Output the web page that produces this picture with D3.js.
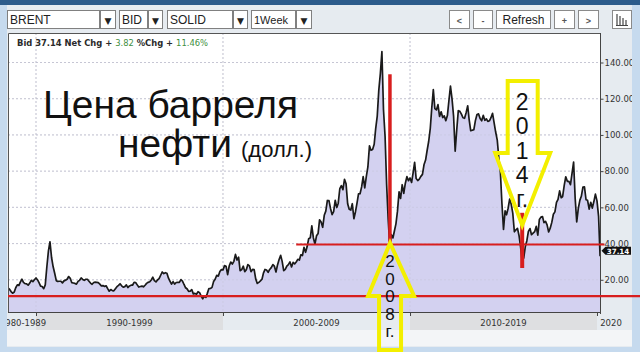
<!DOCTYPE html>
<html><head><meta charset="utf-8">
<script src="https://cdn.jsdelivr.net/npm/d3@7"></script>
<style>html,body{margin:0;padding:0;background:#c9dcef;}svg{display:block}</style>
</head><body><svg id="c" width="640" height="352"></svg>
<script>
// ---------- DATA (monthly Brent, USD/bbl) ----------
const firstMonth = [1988, 6]; // July 1988
const brent1988 = [15.5, 14.8, 13.5, 12.6, 13.2, 15.6];
const brent1989 = [17.2, 16.9, 18.7, 20.3, 18.6, 17.9, 17.8, 17.0, 18.2, 19.7, 19.0, 20.0];
const brent1990 = [21.0, 19.9, 18.4, 16.5, 16.3, 15.1, 17.2, 27.2, 36.0, 41.0, 32.3, 27.3];
const brent1991 = [23.6, 19.5, 19.1, 19.2, 19.2, 18.3, 19.4, 19.8, 20.3, 21.8, 20.8, 18.4];
const brent1992 = [18.2, 18.0, 17.6, 19.1, 19.7, 21.0, 20.2, 19.7, 20.3, 20.3, 19.2, 18.2];
const brent1993 = [17.5, 18.5, 18.7, 18.6, 18.4, 17.6, 16.6, 16.8, 16.3, 16.7, 15.1, 13.7];
const brent1994 = [14.6, 14.0, 13.9, 15.1, 16.2, 16.9, 17.8, 16.7, 15.9, 16.2, 17.2, 15.7];
const brent1995 = [16.6, 17.0, 17.0, 18.6, 18.5, 17.2, 16.0, 16.3, 16.5, 16.1, 17.0, 18.0];
const brent1996 = [18.6, 18.9, 19.9, 21.4, 19.5, 18.8, 19.9, 20.6, 22.5, 24.3, 23.4, 23.9];
const brent1997 = [23.6, 20.9, 19.3, 17.6, 19.0, 17.6, 18.5, 18.6, 18.6, 20.1, 19.3, 17.4];
const brent1998 = [15.6, 14.9, 13.6, 13.7, 14.6, 12.2, 12.5, 12.0, 13.4, 12.9, 11.0, 9.5];
const brent1999 = [11.1, 10.3, 12.5, 15.2, 15.2, 15.8, 19.0, 20.3, 22.5, 22.0, 24.6, 25.6];
const brent2000 = [25.5, 27.8, 27.5, 22.8, 27.6, 29.8, 28.7, 30.2, 34.0, 30.9, 32.5, 25.0];
const brent2001 = [25.6, 27.5, 24.5, 25.6, 28.4, 27.7, 24.5, 25.7, 25.6, 20.5, 18.0, 18.6];
const brent2002 = [19.4, 20.3, 23.7, 25.7, 25.4, 24.1, 25.7, 26.7, 28.4, 27.5, 24.3, 28.2];
const brent2003 = [31.2, 33.5, 30.3, 25.0, 25.8, 27.6, 28.4, 29.9, 27.1, 29.6, 28.8, 29.8];
const brent2004 = [31.3, 30.9, 33.8, 33.4, 37.9, 35.2, 38.2, 42.7, 43.2, 49.8, 43.1, 39.7];
const brent2005 = [44.3, 45.6, 53.1, 51.9, 49.0, 55.6, 57.9, 63.8, 63.7, 59.4, 56.0, 57.6];
const brent2006 = [63.9, 59.9, 62.3, 70.4, 72.0, 69.8, 75.5, 73.0, 62.0, 58.9, 58.5, 62.0];
const brent2007 = [53.7, 57.6, 62.1, 67.4, 67.5, 71.3, 77.0, 70.8, 77.1, 82.3, 94.0, 91.5];
const brent2008 = [91.9, 94.8, 103.3, 110.4, 124.6, 134.0, 146.0, 113.9, 99.1, 72.8, 53.2, 39.0];
const brent2009 = [44.9, 43.1, 46.8, 50.9, 57.9, 68.6, 64.9, 72.5, 67.7, 73.2, 77.0, 74.7];
const brent2010 = [76.2, 73.8, 78.8, 84.8, 75.9, 74.8, 75.6, 77.1, 78.2, 83.5, 86.1, 91.4];
const brent2011 = [96.5, 103.7, 114.6, 125.0, 114.5, 113.8, 116.7, 110.2, 112.8, 109.6, 110.5, 107.9];
const brent2012 = [110.7, 119.3, 127.0, 119.8, 110.3, 91.0, 102.6, 113.4, 113.0, 111.5, 109.5, 109.2];
const brent2013 = [112.3, 116.1, 108.5, 102.3, 102.6, 102.9, 107.9, 111.3, 111.6, 109.1, 107.8, 110.8];
const brent2014 = [108.1, 108.9, 107.5, 107.8, 109.5, 111.9, 106.8, 101.6, 97.1, 87.4, 79.4, 62.3];
const brent2015 = [47.8, 58.1, 55.9, 59.5, 64.6, 61.7, 56.8, 46.5, 47.6, 48.4, 44.3, 38.0];
const brent2016 = [30.0, 32.2, 38.2, 41.6, 46.7, 48.3, 44.9, 45.8, 46.6, 49.5, 44.7, 53.3];
const brent2017 = [54.6, 54.9, 51.6, 52.3, 50.3, 46.4, 48.5, 51.7, 56.2, 57.5, 62.7, 64.4];
const brent2018 = [69.1, 65.3, 66.0, 72.1, 76.9, 74.4, 74.3, 72.5, 78.9, 85.0, 64.8, 52.0];
const brent2019 = [59.4, 64.0, 66.1, 71.2, 71.3, 64.2, 63.9, 59.0, 62.8, 59.6, 63.2, 67.3];
const brent2020 = [63.6, 55.0, 33.0];

const yTicks = [20, 40, 60, 80, 100, 120, 140];
const decadeStarts = [1980, 1990, 2000, 2010, 2020];
const decadeLabels = ["1980-1989", "1990-1999", "2000-2009", "2010-2019", "2020"];
const lastBid = 37.14, netChg = "3.82", pctChg = "11.46%";
const refLevels = [11, 39.5];            // horizontal red lines
const crash2008 = [2008, 11, 39.5, 133.5];  // year, month, from, to
const low2016 = [2016, 0, 57, 26.5];
const arrow2008Tip = [2008, 11, 40.3];
const arrow2014Tip = [2016, 0, 50.2];
const titleLine1 = "Цена барреля", titleLine2 = "нефти", titleUnit = "(долл.)";
const dropdowns = ["BRENT", "BID", "SOLID", "1Week"];
const buttons = ["<", "-", "Refresh", "+", ">"];

// ---------- BUILD ----------
const allVals = [].concat(brent1988, brent1989, brent1990, brent1991, brent1992, brent1993, brent1994,
  brent1995, brent1996, brent1997, brent1998, brent1999, brent2000, brent2001, brent2002, brent2003,
  brent2004, brent2005, brent2006, brent2007, brent2008, brent2009, brent2010, brent2011, brent2012,
  brent2013, brent2014, brent2015, brent2016, brent2017, brent2018, brent2019, brent2020);
const data = allVals.map((v, i) => ({date: new Date(firstMonth[0], firstMonth[1] + i, 1), v}));

const svg = d3.select("#c");
const L = 8, R = 600.5, T = 33, B = 312;
const x = d3.scaleTime().domain([new Date(1990, 0, 1), new Date(2020, 0, 1)]).range([36, 597]);
const y = d3.scaleLinear().domain([0, 140]).range([316, 62.5]);

// background panel
svg.append("rect").attr("x", 0).attr("y", 0).attr("width", 640).attr("height", 352).attr("fill", "#c9dcef");
svg.append("rect").attr("x", 7).attr("y", 5).attr("width", 625).attr("height", 342).attr("fill", "#e6ebf0");
svg.append("rect").attr("x", 7).attr("y", 330).attr("width", 625).attr("height", 16).attr("fill", "#f3f5f7");
svg.append("rect").attr("x", 0).attr("y", 0).attr("width", 640).attr("height", 5).attr("fill", "#2c5b8b");

// toolbar
const ddX = [[7, 100, 116], [119, 148, 163], [167, 233, 248], [251, 296, 312]];
const tb = svg.append("g").attr("font-family", "Liberation Sans, Arial, sans-serif").attr("font-size", 12).attr("fill", "#222");
dropdowns.forEach((t, i) => {
  const [a, b, c] = ddX[i];
  tb.append("rect").attr("x", a + .5).attr("y", 10.5).attr("width", b - a - 1).attr("height", 18).attr("fill", "#fff").attr("stroke", "#808080");
  tb.append("rect").attr("x", b + .5).attr("y", 10.5).attr("width", c - b - 1).attr("height", 18).attr("fill", "#fff").attr("stroke", "#808080");
  tb.append("text").attr("x", a + 3).attr("y", 24).attr("font-size", t === "1Week" ? 11 : 12).text(t);
  tb.append("text").attr("x", (b + c) / 2).attr("y", 23.5).attr("text-anchor", "middle").attr("font-size", 9).attr("font-family", "DejaVu Sans").text("▼");
});
const btX = [[449, 470], [473, 493], [496, 551], [554, 575], [578, 599]];
buttons.forEach((t, i) => {
  const [a, b] = btX[i];
  tb.append("rect").attr("x", a + .5).attr("y", 10.5).attr("width", b - a - 1).attr("height", 18).attr("fill", "#fff").attr("stroke", "#8a8a8a");
  tb.append("text").attr("x", (a + b) / 2).attr("y", 24).attr("text-anchor", "middle")
    .attr("font-size", t === "Refresh" ? 12 : 9).attr("fill", t === "Refresh" ? "#222" : "#555").attr("font-weight", t === "Refresh" ? "normal" : "bold").text(t);
});
tb.append("rect").attr("x", 612.5).attr("y", 10.5).attr("width", 19).attr("height", 18).attr("fill", "#fff").attr("stroke", "#8a8a8a");
[[617, 14], [620, 16], [623, 18], [626, 20]].forEach(([px, top]) =>
  tb.append("line").attr("x1", px).attr("x2", px).attr("y1", top).attr("y2", 25).attr("stroke", "#444").attr("stroke-width", 1.2));
tb.append("line").attr("x1", 616).attr("x2", 628).attr("y1", 25.5).attr("y2", 25.5).attr("stroke", "#444");

// plot area
svg.append("rect").attr("x", L).attr("y", T).attr("width", R - L).attr("height", B - T).attr("fill", "#fff");
svg.append("clipPath").attr("id", "clip").append("rect").attr("x", L).attr("y", T).attr("width", R - L).attr("height", B - T);
const plot = svg.append("g").attr("clip-path", "url(#clip)");

const grid = (g, op) => {
  g.selectAll(".hg").data(yTicks).join("line").attr("x1", L).attr("x2", R).attr("y1", d => y(d)).attr("y2", d => y(d))
    .attr("stroke", "#bfbfcf").attr("stroke-dasharray", "2,2").attr("opacity", op);
  g.selectAll(".vg").data(decadeStarts.slice(1, 4)).join("line").attr("x1", d => x(new Date(d, 0, 1))).attr("x2", d => x(new Date(d, 0, 1)))
    .attr("y1", T).attr("y2", B).attr("stroke", "#bfbfcf").attr("stroke-dasharray", "2,2").attr("opacity", op);
};
grid(plot.append("g"), 0.8);

plot.append("path").datum(data).attr("fill", "#d3d1f0")
  .attr("d", d3.area().x(d => x(d.date)).y0(B).y1(d => y(d.v)));
grid(plot.append("g"), 0.35);
plot.append("path").datum(data).attr("fill", "none").attr("stroke", "#1a1a1a").attr("stroke-width", 1.7).attr("stroke-linejoin", "round")
  .attr("d", d3.line().x(d => x(d.date)).y(d => y(d.v)));

// frame
svg.append("path").attr("d", `M${L + .5},${B}V${T + .5}H${R}`).attr("fill", "none").attr("stroke", "#555");

// y axis
const ya = svg.append("g").attr("transform", `translate(${R},0)`)
  .call(d3.axisRight(y).tickValues(yTicks).tickFormat(d3.format(".2f")).tickSize(3).tickPadding(1));
ya.select(".domain").remove();
ya.append("line").attr("y1", T).attr("y2", B + 2).attr("stroke", "#444");
ya.selectAll("text").attr("font-family", "DejaVu Sans").attr("font-size", 8.5).attr("fill", "#333");
ya.selectAll("line").attr("stroke", "#444");

// x axis bands & labels
const xPos = yr => x(new Date(yr, 0, 1));
const bands = svg.append("g");
const labs = svg.append("g");
decadeStarts.forEach((yr, i) => {
  const a = Math.max(xPos(yr), L), b = Math.min(xPos(yr + 10), 625);
  if (i % 2 === 1) bands.append("rect").attr("x", a).attr("y", 313).attr("width", b - a).attr("height", 17).attr("fill", "#dedfe1");
  labs.append("text").attr("x", (a + b) / 2 + (i === 0 ? 1 : 0)).attr("y", 326).attr("text-anchor", "middle").attr("font-family", "DejaVu Sans")
    .attr("font-size", 8.5).attr("fill", "#333").text(decadeLabels[i]);
});
const xa = svg.append("g").attr("transform", `translate(0,${B})`)
  .call(d3.axisBottom(x).tickValues(decadeStarts.slice(1).map(d => new Date(d, 0, 1))).tickSize(4).tickFormat(""));
xa.select(".domain").remove();
xa.selectAll("line").attr("stroke", "#444");
svg.append("line").attr("x1", L).attr("x2", R).attr("y1", B + .5).attr("y2", B + .5).attr("stroke", "#444");

// bid text
const bt = svg.append("text").attr("x", 17).attr("y", 46).attr("font-family", "DejaVu Sans").attr("font-size", 8.4).attr("font-weight", "bold").attr("fill", "#2a2a2a");
bt.append("tspan").text(`Bid ${lastBid} Net Chg + `);
bt.append("tspan").attr("fill", "#3f8f3f").attr("font-weight", "normal").text(netChg);
bt.append("tspan").text(" %Chg + ");
bt.append("tspan").attr("fill", "#3f8f3f").attr("font-weight", "normal").text(pctChg);

// edge strips
svg.append("rect").attr("x", 0).attr("y", 5).attr("width", 7).attr("height", 347).attr("fill", "#c6daee");
svg.append("rect").attr("x", 632).attr("y", 5).attr("width", 8).attr("height", 347).attr("fill", "#c6daee");
svg.append("rect").attr("x", 0).attr("y", 347).attr("width", 640).attr("height", 5).attr("fill", "#c6daee");

// last price tag
const ty = y(lastBid) + 2;
svg.append("path").attr("d", `M${R + 1},${ty} L${R + 5},${ty - 4} H631 V${ty + 4} H${R + 5} Z`).attr("fill", "#111");
svg.append("text").attr("x", 618).attr("y", ty + 3).attr("text-anchor", "middle").attr("font-family", "DejaVu Sans")
  .attr("font-size", 7.2).attr("font-weight", "bold").attr("fill", "#fff").text(lastBid.toFixed(2));

// title
const tt = svg.append("g").attr("font-family", "Liberation Sans, Arial, sans-serif").attr("fill", "#111");
const t1 = tt.append("text").attr("x", 43).attr("y", 118).attr("font-size", 39).text(titleLine1);
const k = 255 / t1.node().getComputedTextLength();
t1.attr("font-size", 39 * k);
tt.append("text").attr("x", 118).attr("y", 157).attr("font-size", 39 * k).text(titleLine2);
tt.append("text").attr("x", 241).attr("y", 157).attr("font-size", 22).text(titleUnit);

// red annotation lines
const red = "#d81e1e";
svg.append("line").attr("x1", L).attr("x2", 640).attr("y1", y(refLevels[0])).attr("y2", y(refLevels[0])).attr("stroke", red).attr("stroke-width", 2.2);
svg.append("line").attr("x1", x(new Date(2003, 11, 1))).attr("x2", R + 4).attr("y1", y(refLevels[1])).attr("y2", y(refLevels[1])).attr("stroke", red).attr("stroke-width", 2);
const cx08 = x(new Date(crash2008[0], crash2008[1], 5));
svg.append("line").attr("x1", cx08).attr("x2", cx08).attr("y1", y(crash2008[2])).attr("y2", y(crash2008[3])).attr("stroke", red).attr("stroke-width", 3.5);
const cx16 = x(new Date(low2016[0], low2016[1], 1));
svg.append("line").attr("x1", cx16).attr("x2", cx16).attr("y1", y(low2016[2])).attr("y2", y(low2016[3])).attr("stroke", red).attr("stroke-width", 4);

// yellow arrows
const yellow = "#f3ef00";
const ax14 = x(new Date(arrow2014Tip[0], arrow2014Tip[1], 1)), ay14 = y(arrow2014Tip[2]);
svg.append("path").attr("d", `M${ax14},${ay14} L${ax14 - 27},${ay14 - 72} H${ax14 - 14.5} V${ay14 - 144} H${ax14 + 15.5} V${ay14 - 72} H${ax14 + 28} Z`)
  .attr("fill", "none").attr("stroke", yellow).attr("stroke-width", 4).attr("stroke-linejoin", "miter");
const ax08 = x(new Date(arrow2008Tip[0], arrow2008Tip[1], 7)), ay08 = y(arrow2008Tip[2]);
svg.append("path").attr("d", `M${ax08},${ay08} L${ax08 - 22},${ay08 + 53} H${ax08 - 11} V${ay08 + 107} H${ax08 + 11} V${ay08 + 53} H${ax08 + 24} Z`)
  .attr("fill", "none").attr("stroke", yellow).attr("stroke-width", 4).attr("stroke-linejoin", "miter");

const lab = svg.append("g").attr("font-family", "Liberation Sans, Arial, sans-serif").attr("fill", "#111").attr("text-anchor", "middle");
["2", "0", "1", "4", "г."].forEach((c, i) => lab.append("text").attr("x", ax14).attr("y", ay14 - 115 + i * 24.2).attr("font-size", 23).text(c));
["2", "0", "0", "8", "г."].forEach((c, i) => lab.append("text").attr("x", ax08).attr("y", ay08 + 24 + i * 17.5).attr("font-size", 17).text(c));
</script></body></html>
